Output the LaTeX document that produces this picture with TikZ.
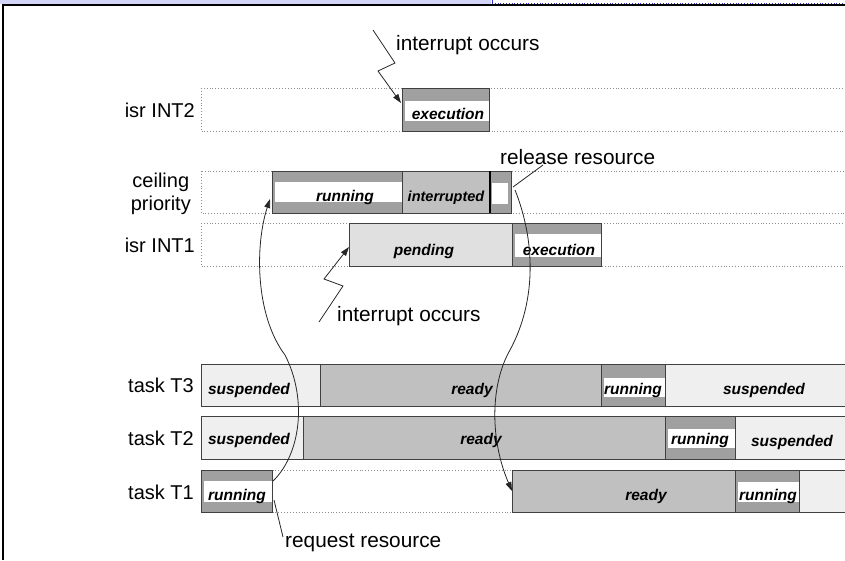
\documentclass[tikz,border=0pt]{standalone}
\usepackage{fontspec}
\setmainfont{Liberation Sans}
\usetikzlibrary{arrows.meta}
\definecolor{bandgray}{HTML}{A0A0A0}
\definecolor{readygray}{HTML}{C0C0C0}
\definecolor{pendgray}{HTML}{E0E0E0}
\definecolor{suspgray}{HTML}{EFEFEF}
\definecolor{edge}{HTML}{404040}
\definecolor{dotgray}{HTML}{8C8C8C}
\definecolor{lavender}{HTML}{D4D4F8}
\definecolor{pageblue}{HTML}{3030D0}
\tikzset{
  rowlabel/.style={font=\fontsize{20}{23}\selectfont, anchor=east, inner sep=0pt},
  note/.style={font=\fontsize{20.8}{24}\selectfont, anchor=west, inner sep=0pt},
  state/.style={font=\fontsize{15.5}{18}\selectfont\bfseries\itshape, anchor=base, inner sep=0pt},
  blk/.style={draw=edge, line width=0.9pt},
  dotrow/.style={draw=dotgray, dotted, line width=0.9pt},
  link/.style={draw=black!85, line width=0.8pt},
  tip/.style={-{Triangle[length=9pt,width=6pt]}},
}
% dark block with a white band: x1 x2 ytop ybot bandtop bandbot
\newcommand\runblock[6]{%
  \fill[bandgray] (#1,#3) rectangle (#2,#4);
  \draw[blk] (#1,#3) rectangle (#2,#4);
  \fill[white] (#1+2.5,#5) rectangle (#2-0.5,#6);
}
% plain filled block: colour x1 x2 ytop ybot
\newcommand\plainblock[5]{%
  \fill[#1] (#2,#4) rectangle (#3,#5);
  \draw[blk] (#2,#4) rectangle (#3,#5);
}
\begin{document}
\begin{tikzpicture}[x=1pt,y=-1pt]
\useasboundingbox (0,0) rectangle (845,560);

% page frame
\fill[lavender] (0,0) rectangle (491,4);
\draw[pageblue, line width=0.8pt] (492,0) -- (492,5);
\draw[pageblue, dotted, line width=0.8pt] (492,3) -- (845,3);
\draw[black, line width=1.2pt] (3,560) -- (3,5) -- (846,5);

% ---- isr INT2
\draw[dotrow] (201,88) rectangle (850,131);
\runblock{402}{489}{88}{131}{101}{121}
\node[state] (i2exec) at (448,119.5) {execution};
\node[rowlabel] (lint2) at (195,110) {isr INT2};

% ---- ceiling priority
\draw[dotrow] (201,171) rectangle (850,213);
\runblock{272}{402}{171}{213}{182}{202}
\plainblock{readygray}{402}{490}{171}{213}
\plainblock{bandgray}{490}{511.5}{171}{213}
\draw[black, line width=1.6pt] (490,171) -- (490,213);
\fill[white] (491.5,183) rectangle (507.5,204);
\node[state] (crun) at (345,201) {running};
\node[state, font=\fontsize{14.5}{17}\selectfont\bfseries\itshape] (cint) at (446,201) {interrupted};
\node[rowlabel, align=center] (lceil) at (191,194) {ceiling\\priority};

% ---- isr INT1
\draw[dotrow] (201,223) rectangle (850,266);
\plainblock{pendgray}{349}{512}{223}{266}
\runblock{512}{601}{223}{266}{234}{257}
\node[state] (i1pend) at (424,255.5) {pending};
\node[state] (i1exec) at (559,255.5) {execution};
\node[rowlabel] (lint1) at (195,245) {isr INT1};

% ---- task T3
\plainblock{suspgray}{201}{320}{364}{406}
\plainblock{readygray}{320}{601}{364}{406}
\runblock{601}{665}{364}{406}{378}{397}
\plainblock{suspgray}{665}{850}{364}{406}
\node[state] (t3s1) at (249,394.5) {suspended};
\node[state] (t3r) at (472,394.5) {ready};
\node[state] (t3run) at (633,394.5) {running};
\node[state] (t3s2) at (764,394.5) {suspended};
\node[rowlabel] (lt3) at (194,385) {task T3};

% ---- task T2
\plainblock{suspgray}{201}{303}{416}{459}
\plainblock{readygray}{303}{665}{416}{459}
\runblock{665}{735}{416}{459}{429}{448}
\plainblock{suspgray}{735}{850}{416}{459}
\node[state] (t2s1) at (249,444.5) {suspended};
\node[state] (t2r) at (481,444.5) {ready};
\node[state] (t2run) at (700,444.5) {running};
\node[state] (t2s2) at (792,446) {suspended};
\node[rowlabel] (lt2) at (194,438) {task T2};

% ---- task T1
\runblock{201}{272.5}{470}{512}{481}{502}
\draw[dotrow] (272.5,470) -- (512,470) (272.5,512) -- (512,512);
\plainblock{readygray}{512}{735.5}{470}{512}
\runblock{735.5}{799.5}{470}{512}{482}{502}
\plainblock{suspgray}{799.5}{850}{470}{512}
\node[state] (t1run) at (237,500.5) {running};
\node[state] (t1r) at (646,500.5) {ready};
\node[state] (t1run2) at (768,500.5) {running};
\node[rowlabel] (lt1) at (194,492) {task T1};

% ---- annotations
\node[note] (n2) at (396,45) {interrupt occurs};
\node[note] (nrel) at (500,157) {release resource};
\node[note] (n1) at (337,316) {interrupt occurs};
\node[note] (nreq) at (285,543) {request resource};

\coordinate (z2a) at (373,30);
\coordinate (z2t) at (401,103);
\draw[link, tip] (z2a) -- (395,63) -- (378,71) -- (z2t);

\coordinate (z1a) at (319,322);
\coordinate (z1t) at (349,247);
\draw[link, tip] (z1a) -- (343,286) -- (324,279) -- (z1t);

\coordinate (relA) at (543,165);
\coordinate (relB) at (513,187);
\draw[link] (relA) -- (relB);

\coordinate (reqA) at (283,537);
\coordinate (reqB) at (274,500);
\draw[link] (reqA) -- (reqB);

% resource request: task T1 raises to ceiling priority
\coordinate (upA) at (273,481);
\coordinate (upB) at (270,199);
\draw[link, tip] (upA) .. controls (300,455) and (308,400) .. (285,355)
                      .. controls (255,315) and (255,245) .. (upB);

% resource release: task T1 drops back to ready
\coordinate (dnA) at (515,190);
\coordinate (dnB) at (512,491);
\draw[link, tip] (dnA) .. controls (535,240) and (537,300) .. (510,350)
                      .. controls (490,385) and (490,440) .. (dnB);
\end{tikzpicture}
\end{document}
